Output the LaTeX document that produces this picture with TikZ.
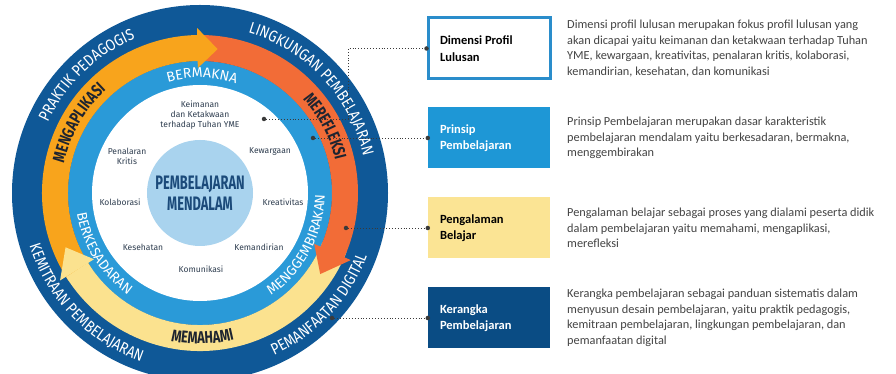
\documentclass[tikz,border=0pt]{standalone}
\usepackage{fontspec}
\setmainfont{Carlito}
\newfontfamily\ringfont{Fira Sans}
\newfontfamily\ringcond[FakeStretch=0.85]{Fira Sans}
\newfontfamily\arrowcond[FakeStretch=0.75]{Fira Sans}
\newfontfamily\corefont[FakeStretch=0.66]{Fira Sans}
\usetikzlibrary{calc,positioning,decorations.text}

\definecolor{darkring}{HTML}{0F5897}
\definecolor{lightring}{HTML}{2A9AD8}
\definecolor{orangearr}{HTML}{F8A41C}
\definecolor{redarr}{HTML}{F26C37}
\definecolor{yellowarr}{HTML}{FBE28F}
\definecolor{corefill}{HTML}{A9D3EE}
\definecolor{coretext}{HTML}{1B4A7A}
\definecolor{labeltext}{HTML}{2E3D4F}
\definecolor{arrtext}{HTML}{1E2430}
\definecolor{desctext}{HTML}{444444}
\definecolor{conncol}{HTML}{3A3A3A}
\definecolor{boxborder}{HTML}{2A8DCB}
\definecolor{prinsipfill}{HTML}{1E97D6}
\definecolor{pengfill}{HTML}{FBE494}
\definecolor{kerangkafill}{HTML}{0A4C84}

\newcommand{\outerlbl}{\ringcond\fontsize{16}{18}\selectfont}
\newcommand{\arrowlbl}{\arrowcond\bfseries\fontsize{17}{19}\selectfont}
\newcommand{\innerlbl}{\ringfont\fontsize{14}{16}\selectfont}

\tikzset{
  ringtext/.style 2 args={decorate, decoration={text along path, text align=center, text color=#1, text={#2}}},
  conn/.style={dotted, line width=.9pt, conncol},
  dot/.style={circle, fill=conncol, inner sep=0pt, minimum size=4.5pt},
  infobox/.style={minimum width=122pt, minimum height=61pt, text width=98pt, inner xsep=12pt, align=flush left, font=\bfseries\fontsize{12.5}{16.5}\selectfont},
  desc/.style={anchor=west, inner sep=0pt, align=flush left, text=desctext, font=\fontsize{12.3}{15.5}\selectfont},
  value/.style={align=center, text=labeltext, font=\ringfont\fontsize{8.5}{10}\selectfont}
}

\begin{document}
\begin{tikzpicture}[x=1pt,y=1pt]
 \useasboundingbox (0,0) rectangle (896,374);
 \clip (0,0) rectangle (896,374);
 \fill[white] (0,0) rectangle (896,374);
 \coordinate (C) at (200,181);
 %rings
   \fill[darkring] (C) circle (188pt);
   \fill[lightring] (C) circle (132pt);
   \fill[white] (C) circle (108pt);
 %arrow bands
   \draw[orangearr, line width=26pt] ($(C)+(214:145pt)$) arc[start angle=214, end angle=89, radius=145pt];
   \draw[yellowarr, line width=26pt] ($(C)+(-22:145pt)$) arc[start angle=-22, end angle=-148, radius=145pt];
   \draw[redarr, line width=26pt] ($(C)+(90:145pt)$) arc[start angle=90, end angle=-24.5, radius=145pt];
 %arrow heads
   \fill[redarr] ($(C)+(-24:125pt)$) -- ($(C)+(-24:165pt)$) -- ($(C)+(-34:145pt)$) -- cycle;
   \fill[yellowarr] ($(C)+(212:125pt)$) -- ($(C)+(212:165pt)$) -- ($(C)+(202:145pt)$) -- cycle;
   \fill[orangearr] ($(C)+(91:125pt)$) -- ($(C)+(91:165pt)$) -- ($(C)+(83:145pt)$) -- cycle;
 %outer ring words
   \path[ringtext={white}{|\outerlbl|PRAKTIK PEDAGOGIS}] ($(C)+(194:167.5pt)$) arc[start angle=194, end angle=74, radius=167.5pt];
   \path[ringtext={white}{|\outerlbl|LINGKUNGAN PEMBELAJARAN}] ($(C)+(113:167.5pt)$) arc[start angle=113, end angle=-27, radius=167.5pt];
   \path[ringtext={white}{|\outerlbl|KEMITRAAN PEMBELAJARAN}] ($(C)+(154:178.5pt)$) arc[start angle=154, end angle=294, radius=178.5pt];
   \path[ringtext={white}{|\outerlbl|PEMANFAATAN DIGITAL}] ($(C)+(-113:178.5pt)$) arc[start angle=-113, end angle=27, radius=178.5pt];
 %arrow words
   \path[ringtext={arrtext}{|\arrowlbl|MENGAPLIKASI}] ($(C)+(210:139.2pt)$) arc[start angle=210, end angle=90, radius=139.2pt];
   \path[ringtext={arrtext}{|\arrowlbl|MEREFLEKSI}] ($(C)+(88:139.2pt)$) arc[start angle=88, end angle=-32, radius=139.2pt];
   \path[ringtext={arrtext}{|\arrowlbl|MEMAHAMI}] ($(C)+(-149:150.8pt)$) arc[start angle=-149, end angle=-29, radius=150.8pt];
 %inner ring words
   \path[ringtext={white}{|\innerlbl|BERMAKNA}] ($(C)+(149:115.2pt)$) arc[start angle=149, end angle=29, radius=115.2pt];
   \path[ringtext={white}{|\innerlbl|BERKESADARAN}] ($(C)+(152:124.8pt)$) arc[start angle=152, end angle=272, radius=124.8pt];
   \path[ringtext={white}{|\innerlbl|MENGGEMBIRAKAN}] ($(C)+(-88:124.8pt)$) arc[start angle=-88, end angle=32, radius=124.8pt];
 %core
   \node[circle, fill=corefill, minimum size=106pt, inner sep=0pt, align=center, text=coretext, font=\corefont\bfseries\fontsize{19.5}{21}\selectfont] (core) at (C) {PEMBELAJARAN\\MENDALAM};
 %profile values
   \node[value] (keimanan) at (200,259) {Keimanan\\dan Ketakwaan\\terhadap Tuhan YME};
   \node[value] (penalaran) at (127,218) {Penalaran\\Kritis};
   \node[value] (kewargaan) at (270,223) {Kewargaan};
   \node[value] (kolaborasi) at (120,172) {Kolaborasi};
   \node[value] (kreativitas) at (283,172) {Kreativitas};
   \node[value] (kesehatan) at (143,127) {Kesehatan};
   \node[value] (kemandirian) at (259,127) {Kemandirian};
   \node[value] (komunikasi) at (201,105) {Komunikasi};
 %legend boxes
   \node[infobox, draw=boxborder, line width=3pt, fill=white, text=black] (dimensi) at (489,325.5) {Dimensi Profil\\Lulusan};
   \node[infobox, fill=prinsipfill, text=white] (prinsip) at (489,236) {Prinsip\\Pembelajaran};
   \node[infobox, fill=pengfill, text=black] (pengalaman) at (489,146) {Pengalaman\\Belajar};
   \node[infobox, fill=kerangkafill, text=white] (kerangka) at (489,56) {Kerangka\\Pembelajaran};
 %descriptions
   \node[desc] (ddesc) at (567,325.5) {Dimensi profil lulusan merupakan fokus profil lulusan yang\\akan dicapai yaitu keimanan dan ketakwaan terhadap Tuhan\\YME, kewargaan, kreativitas, penalaran kritis, kolaborasi,\\kemandirian, kesehatan, dan komunikasi};
   \node[desc] (pdesc) at (567,236) {Prinsip Pembelajaran merupakan dasar karakteristik\\pembelajaran mendalam yaitu berkesadaran, bermakna,\\menggembirakan};
   \node[desc] (gdesc) at (567,146) {Pengalaman belajar sebagai proses yang dialami peserta didik\\dalam pembelajaran yaitu memahami, mengaplikasi,\\merefleksi};
   \node[desc] (kdesc) at (567,56) {Kerangka pembelajaran sebagai panduan sistematis dalam\\menyusun desain pembelajaran, yaitu praktik pedagogis,\\kemitraan pembelajaran, lingkungan pembelajaran, dan\\pemanfaatan digital};
 %connectors
   \node[dot] (kdot) at (264,255) {};
   \node[dot] (pdot) at (313,236) {};
   \node[dot] (gdot) at (346,146) {};
   \node[dot] (fdot) at (332,56) {};
   \coordinate (bend) at (348,255);
   \draw[conn] (kdot) -- (bend) |- (dimensi.west);
   \draw[conn] (pdot) -- (prinsip.west);
   \draw[conn] (gdot) -- (pengalaman.west);
   \draw[conn] (fdot) -- (kerangka.west);
   \node[dot] (dend) at (dimensi.west) {};
   \node[dot] (pend) at (prinsip.west) {};
   \node[dot] (gend) at (pengalaman.west) {};
   \node[dot] (kend) at (kerangka.west) {};
\end{tikzpicture}
\end{document}
